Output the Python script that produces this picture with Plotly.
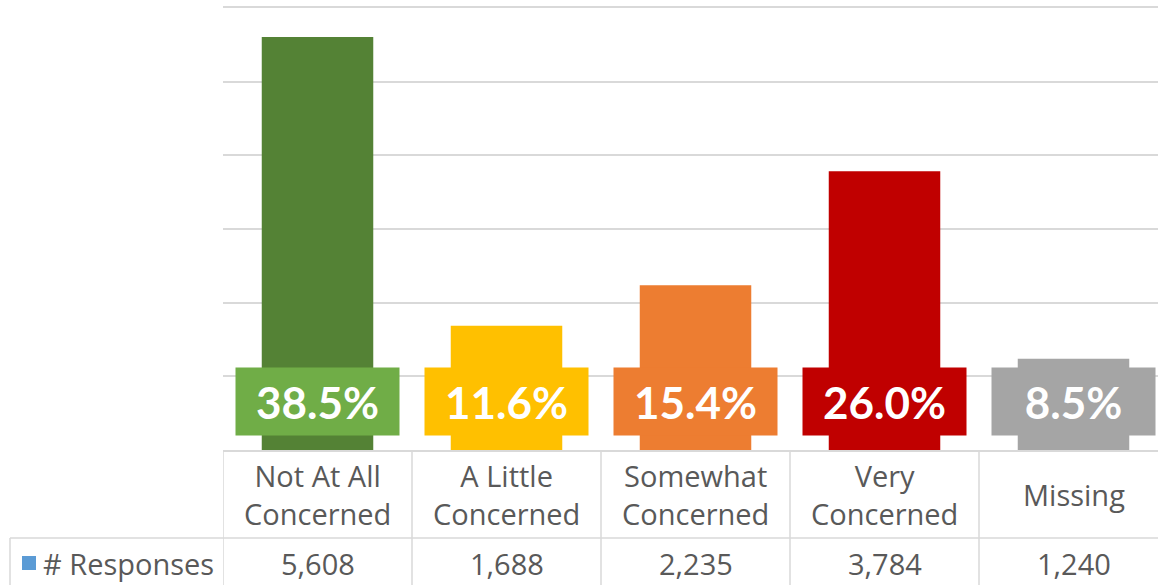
import plotly.graph_objects as go

categories = ["Not At All<br>Concerned", "A Little<br>Concerned", "Somewhat<br>Concerned",
              "Very<br>Concerned", "Missing"]
responses = [5608, 1688, 2235, 3784, 1240]
percent_labels = ["38.5%", "11.6%", "15.4%", "26.0%", "8.5%"]
bar_colors = ["#548235", "#FFC000", "#ED7D31", "#C00000", "#A5A5A5"]
label_colors = ["#70AD47", "#FFC000", "#ED7D31", "#C00000", "#A5A5A5"]
series_name = "# Responses"

W, H = 1158, 585
L, T, B = 223, 8, 135
plot_w = W - L
plot_h = H - T - B
col_w = 189


def px_x(p):
    return (p - L) / plot_w


def px_y(p):
    return (H - B - p) / plot_h


grid = "#D9D9D9"
txt = "#595959"
font_tbl = "Open Sans"
tbl_size = 29

xs = list(range(len(categories)))
fig = go.Figure()
fig.add_trace(go.Bar(
    x=xs, y=responses, marker=dict(color=bar_colors, line=dict(width=0)),
    width=0.59, showlegend=False, hoverinfo="y",
))

# percentage badges sitting on the bars
for i, (lab, c) in enumerate(zip(percent_labels, label_colors)):
    fig.add_annotation(
        x=i, y=px_y(401.5), xref="x", yref="paper", text="<b>%s</b>" % lab,
        showarrow=False, bgcolor=c, width=161, height=65,
        font=dict(family="Lato", size=44, color="white"),
        xanchor="center", yanchor="middle",
    )

# data table under the axis
for i, (cat, v) in enumerate(zip(categories, responses)):
    fig.add_annotation(
        x=i, y=px_y(494), xref="x", yref="paper", text=cat, showarrow=False,
        font=dict(family=font_tbl, size=tbl_size, color=txt), yanchor="middle",
    )
    fig.add_annotation(
        x=i, y=px_y(563), xref="x", yref="paper", text=f"{v:,}", showarrow=False,
        font=dict(family=font_tbl, size=tbl_size, color=txt), yanchor="middle",
    )

shapes = []
for i in range(len(categories) + 1):
    shapes.append(dict(type="line", xref="x", yref="paper", x0=i - 0.5, x1=i - 0.5,
                       y0=px_y(450), y1=px_y(H + 5), line=dict(color=grid, width=1.5)))
shapes.append(dict(type="line", xref="paper", yref="paper", x0=px_x(10), x1=1.02,
                   y0=px_y(538), y1=px_y(538), line=dict(color=grid, width=1.5)))
shapes.append(dict(type="line", xref="paper", yref="paper", x0=px_x(10), x1=px_x(10),
                   y0=px_y(538), y1=px_y(H + 5), line=dict(color=grid, width=1.5)))
shapes.append(dict(type="rect", xref="paper", yref="paper", x0=px_x(22), x1=px_x(36),
                   y0=px_y(556), y1=px_y(570), fillcolor="#5B9BD5", line=dict(width=0)))
fig.add_annotation(
    x=px_x(216), y=px_y(563), xref="paper", yref="paper", text=series_name,
    showarrow=False, xanchor="right", yanchor="middle",
    font=dict(family=font_tbl, size=tbl_size, color=txt),
)

fig.update_layout(
    width=W, height=H,
    margin=dict(l=L, r=0, t=T, b=B),
    plot_bgcolor="white", paper_bgcolor="white",
    shapes=shapes,
    xaxis=dict(range=[-0.5, -0.5 + plot_w / col_w], showticklabels=False, showgrid=False,
               zeroline=False, showline=True, mirror=True, linecolor=grid, linewidth=1.5,
               ticks=""),
    yaxis=dict(range=[0, 6000], dtick=1000, showticklabels=False, gridcolor=grid,
               gridwidth=1.5, zeroline=False, showline=False),
)

fig.write_html("out.html", config={"displayModeBar": False},
               post_script="document.body.style.margin='0';")
